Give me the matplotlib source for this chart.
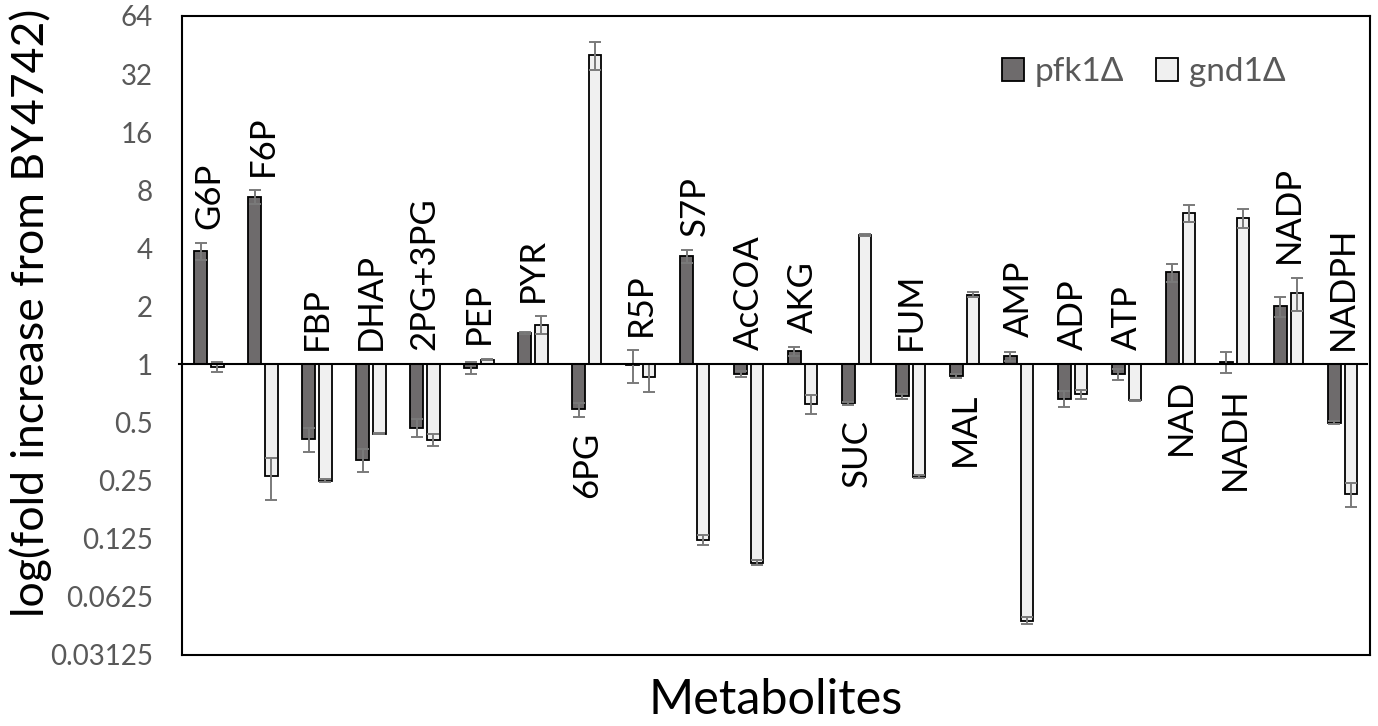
import numpy as np
import matplotlib
matplotlib.use("Agg")
import matplotlib.pyplot as plt

plt.rcParams['font.family'] = ['Lato', 'DejaVu Sans']

# metabolitos e valores (fold change relativo a BY4742)
categories = ["G6P", "F6P", "FBP", "DHAP", "2PG+3PG", "PEP", "PYR", "6PG", "R5P", "S7P", "AcCOA",
              "AKG", "SUC", "FUM", "MAL", "AMP", "ADP", "ATP", "NAD", "NADH", "NADP", "NADPH"]

pfk = [3.86, 7.38, 0.41, 0.32, 0.47, 0.96, 1.46, 0.585, 0.995, 3.64, 0.89,
       1.17, 0.63, 0.685, 0.87, 1.10, 0.665, 0.89, 3.0, 1.03, 2.0, 0.50]
pfk_err = [0.38, 0.6, 0.057, 0.043, 0.05, 0.07, 0.02, 0.05, 0.19, 0.27, 0.03,
           0.06, 0.01, 0.02, 0.02, 0.06, 0.065, 0.06, 0.32, 0.13, 0.23, 0.01]

gnd = [0.97, 0.264, 0.25, 0.438, 0.406, 1.06, 1.61, 40.2, 0.863, 0.123, 0.094,
       0.621, 4.71, 0.262, 2.3, 0.047, 0.70, 0.653, 6.1, 5.74, 2.35, 0.212]
gnd_err = [0.06, 0.065, 0.005, 0.004, 0.03, 0.01, 0.17, 6.6, 0.14, 0.007, 0.003,
           0.07, 0.06, 0.005, 0.07, 0.002, 0.04, 0.004, 0.63, 0.65, 0.46, 0.03]

# onde fica o nome do metabolito (acima ou abaixo da linha base)
label_above = [True, True, True, True, True, True, True, False, True, True, True,
               True, False, True, False, True, True, True, False, False, True, True]

ytick_vals = [0.03125, 0.0625, 0.125, 0.25, 0.5, 1, 2, 4, 8, 16, 32, 64]
ytick_labels = ["0.03125", "0.0625", "0.125", "0.25", "0.5", "1", "2", "4", "8", "16", "32", "64"]

fig = plt.figure(figsize=(13.78, 7.26), dpi=100)
ax = fig.add_axes([0.132, 0.098, 0.862, 0.880])

x = np.arange(len(categories))
w = 0.235
off = 0.154
pfk = np.array(pfk)
gnd = np.array(gnd)

ax.bar(x - off, pfk - 1, bottom=1, width=w, color="#6e6b6c", edgecolor="black", linewidth=1.3,
       label="pfk1Δ", zorder=2)
ax.bar(x + off, gnd - 1, bottom=1, width=w, color="#f0f0f0", edgecolor="black", linewidth=1.3,
       label="gnd1Δ", zorder=2)
ax.errorbar(x - off, pfk, yerr=pfk_err, fmt="none", ecolor="#7a7a7a", elinewidth=1.4, capsize=4,
            capthick=1.4, zorder=3)
ax.errorbar(x + off, gnd, yerr=gnd_err, fmt="none", ecolor="#7a7a7a", elinewidth=1.4, capsize=4,
            capthick=1.4, zorder=3)

# linha base em 1
ax.plot([-0.56, 21.45], [1, 1], color="black", linewidth=1.5, clip_on=False, zorder=4)

ax.set_yscale("log", base=2)
ax.set_ylim(0.03125, 64)
ax.set_xlim(-0.5, 21.5)
ax.set_yticks(ytick_vals)
ax.set_yticklabels(ytick_labels)
ax.minorticks_off()
ax.tick_params(axis="y", length=0, pad=21, labelsize=20, labelcolor="#595959")
ax.set_xticks([])
for s in ax.spines.values():
    s.set_linewidth(1.5)
    s.set_color("black")

# nomes dos metabolitos
for i, nome in enumerate(categories):
    if label_above[i]:
        topo = max(1, pfk[i] + pfk_err[i], gnd[i] + gnd_err[i])
        ax.text(x[i], topo * 2 ** 0.25, nome, rotation=90, ha="center", va="bottom", fontsize=25)
    else:
        fundo = min(1, pfk[i] - pfk_err[i], gnd[i] - gnd_err[i])
        ax.text(x[i], fundo / 2 ** 0.25, nome, rotation=90, ha="center", va="top", fontsize=25)

ax.set_ylabel("log(fold increase from BY4742)", fontsize=32)
ax.yaxis.set_label_coords(-0.109, 0.536)
ax.set_xlabel("Metabolites", fontsize=35, labelpad=17)

leg = ax.legend(loc="center left", bbox_to_anchor=(0.69, 0.912), frameon=False, ncol=2, fontsize=24,
                handlelength=0.67, handleheight=0.67, columnspacing=0.95, handletextpad=0.33,
                borderpad=0, borderaxespad=0)
for t in leg.get_texts():
    t.set_color("#595959")

fig.savefig("out.png", dpi=100)
